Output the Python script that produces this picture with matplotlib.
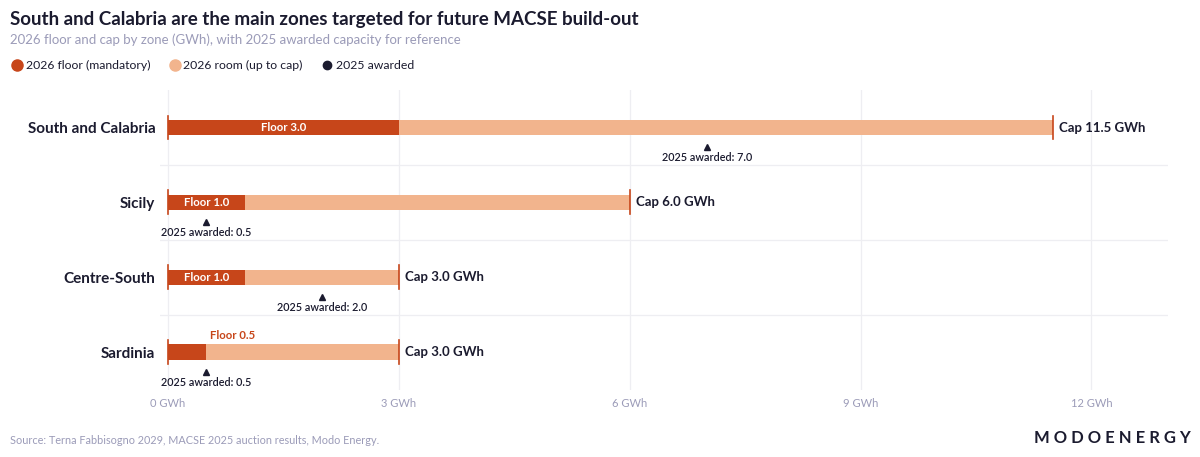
import matplotlib
matplotlib.use("agg")
import matplotlib.pyplot as plt
from matplotlib.lines import Line2D

plt.rcParams["font.family"] = ["Lato", "DejaVu Sans"]

zones = ["South and Calabria", "Sicily", "Centre-South", "Sardinia"]
floor_2026 = [3.0, 1.0, 1.0, 0.5]
cap_2026 = [11.5, 6.0, 3.0, 3.0]
awarded_2025 = [7.0, 0.5, 2.0, 0.5]
xticks = [0, 3, 6, 9, 12]

FLOOR_C = "#C7461A"
ROOM_C = "#F2B48D"
DARK = "#1B1B2F"
GREY = "#9B9BB8"

fig = plt.figure(figsize=(12, 4.57), dpi=100)
ax = fig.add_axes([0.1336, 0.147, 0.84, 0.656])

bar_h = 0.21
for i, z in enumerate(zones):
    fl, cap, aw = floor_2026[i], cap_2026[i], awarded_2025[i]
    ax.barh(i, cap - fl, left=fl, height=bar_h, color=ROOM_C, zorder=2)
    ax.barh(i, fl, left=0, height=bar_h, color=FLOOR_C, zorder=3)
    # cap and zero markers
    ax.plot([cap, cap], [i - 0.16, i + 0.16], color=FLOOR_C, lw=1.2, zorder=4)
    ax.plot([0, 0], [i - 0.16, i + 0.16], color=FLOOR_C, lw=1.2, zorder=4)
    ax.text(cap + 0.08, i, f"Cap {cap:.1f} GWh", va="center", ha="left",
            fontsize=9.5, fontweight="bold", color=DARK)
    if fl >= 1.0:
        ax.text(fl / 2, i, f"Floor {fl:.1f}", va="center", ha="center",
                fontsize=8.2, fontweight="bold", color="white", zorder=5)
    else:
        ax.text(fl + 0.05, i - 0.22, f"Floor {fl:.1f}", va="center", ha="left",
                fontsize=8.2, fontweight="bold", color=FLOOR_C)
    ax.plot(aw, i + 0.26, marker="^", color=DARK, markersize=5, zorder=5)
    ax.text(aw, i + 0.40, f"2025 awarded: {aw:.1f}", va="center", ha="center",
            fontsize=7.8, fontweight="semibold", color=DARK)

ax.set_ylim(3.5, -0.5)
ax.set_xlim(-0.1, 13.0)
ax.set_yticks(range(len(zones)))
ax.set_yticklabels(zones, fontsize=11, fontweight="bold", color=DARK)
ax.set_xticks(xticks)
ax.set_xticklabels([f"{t} GWh" for t in xticks], fontsize=8, color=GREY)
ax.tick_params(axis="both", length=0)
ax.tick_params(axis="x", pad=6)
ax.tick_params(axis="y", pad=3.6)
for t in xticks:
    ax.axvline(t, color="#EEEEF2", lw=0.9, zorder=0)
for y in [0.5, 1.5, 2.5]:
    ax.axhline(y, color="#EEEEF2", lw=0.9, zorder=0)
for s in ax.spines.values():
    s.set_visible(False)

fig.text(0.008, 0.957, "South and Calabria are the main zones targeted for future MACSE build-out",
         fontsize=13.5, fontweight="bold", color=DARK, va="center")
fig.text(0.008, 0.914, "2026 floor and cap by zone (GWh), with 2025 awarded capacity for reference",
         fontsize=9.5, color=GREY, va="center")

handles = [
    Line2D([], [], marker="o", ls="", color=FLOOR_C, markersize=8, label="2026 floor (mandatory)"),
    Line2D([], [], marker="o", ls="", color=ROOM_C, markersize=8, label="2026 room (up to cap)"),
    Line2D([], [], marker="o", ls="", color=DARK, markersize=6, label="2025 awarded"),
]
fig.legend(handles=handles, loc="center left", bbox_to_anchor=(0.0, 0.857), ncol=3,
           frameon=False, fontsize=8.8, handletextpad=0.2, columnspacing=1.5,
           handlelength=1.0, labelcolor=DARK)

fig.text(0.008, 0.037, "Source: Terna Fabbisogno 2029, MACSE 2025 auction results, Modo Energy.",
         fontsize=7.8, color=GREY, va="center")
fig.text(0.992, 0.042, "M O D O E N E R G Y", fontsize=12, fontweight="bold",
         color=DARK, ha="right", va="center")

fig.savefig("out.png", dpi=100, facecolor="white")
